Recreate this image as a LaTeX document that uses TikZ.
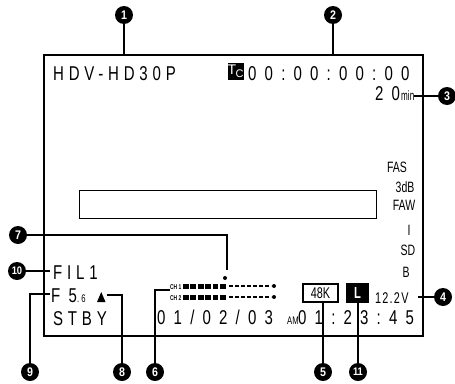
\documentclass[tikz,border=0pt]{standalone}
\usepackage{fontspec}
\setmainfont{Liberation Sans}
\newfontfamily\osd[FakeStretch=0.75,LetterSpace=24]{Liberation Sans}
\newfontfamily\osdn[FakeStretch=0.75,LetterSpace=41]{Liberation Sans}
\newfontfamily\osn[FakeStretch=0.7]{Liberation Sans}
\newfontfamily\osm[FakeStretch=0.6]{Liberation Sans}
\newfontfamily\numf[FakeStretch=0.85]{Liberation Sans}
\begin{document}
\begin{tikzpicture}[x=1pt,y=-1pt,
  callout/.style={circle,fill=black,text=white,inner sep=0pt,minimum size=18pt,font=\numf\bfseries\fontsize{12.5}{12.5}\selectfont},
  lead/.style={line width=1.2pt},
  big/.style={inner sep=0pt,anchor=base west,font=\osd\fontsize{20}{20}\selectfont},
  bign/.style={inner sep=0pt,anchor=base west,font=\osdn\fontsize{20}{20}\selectfont},
  mid/.style={inner sep=0pt,anchor=base,font=\osn\fontsize{15}{15}\selectfont},
  small/.style={inner sep=0pt,anchor=base west,font=\osn\fontsize{11}{11}\selectfont},
  tiny/.style={inner sep=0pt,anchor=base west,font=\osn\bfseries\fontsize{7}{7}\selectfont}]
\useasboundingbox (0,0) rectangle (455,383);
% frame
\draw[line width=1.6pt] (44,55) rectangle (423,336);
\node[draw,line width=1pt,minimum width=297pt,minimum height=28pt,inner sep=0pt] (tbox) at (227.5,204) {};
% top row
\node[big] (hdv) at (53,80) {HDV-HD30P};
\node[fill=black,text=white,minimum width=16pt,minimum height=17pt,inner sep=0pt] (tc) at (235.5,71) {\fontsize{14}{14}\selectfont T\kern-0.5pt\raisebox{-3pt}{\fontsize{11}{11}\selectfont C}};
\node[bign] (tcv) at (248,80) {00:00:00:00};
\node[bign] (rem) at (375,100) {20};
\node[inner sep=0pt,anchor=base west,font=\osm\fontsize{13.5}{13.5}\selectfont] (min) at (401,100) {min};
% right column
\node[mid] (fas) at (397,172) {FAS};
\node[mid] (db) at (405,192) {3dB};
\node[mid] (faw) at (404,210) {FAW};
\node[mid] (ibar) at (409,235) {I};
\node[mid] (sd) at (408,255) {SD};
\node[mid] (bb) at (406,277) {B};
\node[mid,anchor=base west,font=\osn\fontsize{15.5}{15.5}\selectfont\addfontfeature{LetterSpace=8}] (volt) at (375,303) {12.2V};
\node[draw,line width=1.2pt,fill=white,minimum width=35pt,minimum height=18pt,inner sep=0pt,font=\osn\fontsize{15.5}{15.5}\selectfont] (k48) at (320.5,293) {48K};
\node[fill=black,text=white,minimum width=23pt,minimum height=20pt,inner sep=0pt,font=\osn\bfseries\fontsize{16}{16}\selectfont] (lbox) at (357.5,293) {L};
% left column
\node[big] (fil) at (53,279) {FIL1};
\node[bign] (f5) at (51,302) {F5};
\node[small] (f6) at (77,302) {.\kern2pt 6};
\fill (97,302) -- (105.5,302) -- (101.25,292) -- cycle;
\coordinate (tri) at (107,295);
\node[big] (stby) at (53,325) {STBY};
\node[bign] (date) at (157,324) {01/02/03};
\node[small] (am) at (287,324) {AM};
\node[bign] (time) at (298,324) {01:23:45};
% audio meter
\node[tiny] (ch1) at (170,289) {CH 1};
\node[tiny] (ch2) at (170,300) {CH 2};
\foreach \r in {286,297}{
  \foreach \i in {0,...,5}{\fill (183+\i*7.4,\r-2.5) rectangle ++(5.8,5);}
  \draw[line width=1.6pt,dash pattern=on 4pt off 2pt] (229,\r) -- (271,\r);
  \fill (274,\r) circle (2pt);
}
\fill (225,278) coordinate (peak) circle (2pt);
% callouts
\node[callout] (c1) at (124,15) {1};
\node[callout] (c2) at (333,15) {2};
\node[callout] (c3) at (447,96) {3};
\node[callout] (c4) at (443,297) {4};
\node[callout] (c5) at (323,372) {5};
\node[callout] (c6) at (155,372) {6};
\node[callout] (c7) at (18,235) {7};
\node[callout] (c8) at (122,372) {8};
\node[callout] (c9) at (30,372) {9};
\node[callout,font=\numf\bfseries\fontsize{11}{11}\selectfont] (c10) at (17,271) {10};
\node[callout,font=\numf\bfseries\fontsize{11}{11}\selectfont] (c11) at (358,372) {11};
\draw[lead] (c1) -- (124,55);
\draw[lead] (c2) -- (333,55);
\draw[lead] (c3) -- (min.east |- c3);
\draw[lead] (c4) -- (418,297);
\draw[lead] (c5) -- (c5 |- k48.south);
\draw[lead] (c11) -- (c11 |- lbox.south);
\draw[lead] (c6) |- (ch2.west |- 0,290);
\draw[lead] (c7) -| (227,270);
\draw[lead] (c8) |- (tri);
\draw[lead] (c9) |- (50,294);
\draw[lead] (c10) -- (50,271);
\end{tikzpicture}
\end{document}
